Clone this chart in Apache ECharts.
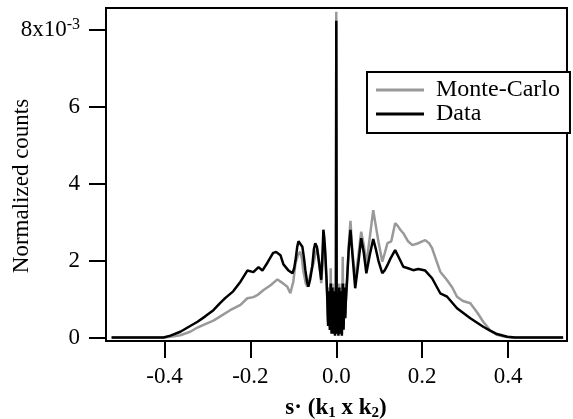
<!DOCTYPE html>
<html>
<head>
<meta charset="utf-8">
<script src="https://cdn.jsdelivr.net/npm/echarts@6/dist/echarts.min.js"></script>
<style>
html,body{margin:0;padding:0;background:#fff;}
#c{width:573px;height:419px;}
</style>
</head>
<body>
<div id="c"></div>
<script>
// Tick values
const xTicks = [-0.4, -0.2, 0, 0.2, 0.4];
const yTicks = [0, 2, 4, 6, 8];

// Monte-Carlo (gray), y in units of 1e-3
const mcX = [-0.523,-0.433,-0.402,-0.386,-0.363,-0.340,-0.323,-0.305,-0.286,-0.270,-0.247,-0.223,-0.207,-0.193,-0.184,-0.170,-0.153,-0.137,-0.123,-0.114,-0.107,-0.100,-0.095,-0.089,-0.084,-0.080,-0.077,-0.071,-0.067,-0.062,-0.057,-0.053,-0.048,-0.044,-0.039,-0.035,-0.032,-0.030,-0.026,-0.021,
  -0.020,-0.019,-0.018,-0.017,-0.016,-0.015,-0.014,-0.013,-0.012,-0.011,-0.010,-0.009,-0.008,-0.007,-0.006,-0.005,-0.004,-0.003,-0.002,-0.001,0.000,0.001,0.002,0.003,0.004,0.005,0.006,0.007,0.008,0.009,0.010,0.011,0.012,0.013,0.014,0.015,0.016,0.017,0.018,0.019,0.020,0.021,0.022,
  0.025,0.029,0.033,0.037,0.044,0.051,0.058,0.064,0.070,0.078,0.086,0.092,0.098,0.107,0.113,0.119,0.128,0.137,0.143,0.149,0.156,0.167,0.177,0.191,0.200,0.207,0.216,0.223,0.233,0.242,0.258,0.270,0.281,0.295,0.312,0.328,0.342,0.358,0.374,0.393,0.409,0.528];
const mcY = [0,0,0,0.02,0.06,0.15,0.26,0.35,0.44,0.55,0.71,0.85,1.02,1.05,1.10,1.23,1.36,1.51,1.40,1.32,1.15,1.45,1.93,2.15,2.23,2.05,1.75,1.40,1.32,1.55,1.80,1.93,2.20,2.30,1.90,1.41,1.90,2.60,2.20,1.00,
  0.60,0.40,0.90,1.30,0.60,0.30,0.90,1.80,0.80,0.20,0.70,1.40,0.60,0.15,0.70,1.30,0.50,0.10,0.40,0.15,8.46,0.15,0.50,1.20,0.40,0.10,0.60,1.40,0.50,0.15,0.70,1.30,0.40,0.10,1.00,2.10,0.90,0.30,0.80,1.40,0.90,0.60,0.90,
  1.40,2.40,3.03,2.30,1.50,2.10,2.75,2.40,1.90,2.60,3.31,2.90,2.50,1.97,2.20,2.45,2.50,2.97,2.90,2.80,2.71,2.50,2.40,2.45,2.50,2.53,2.45,2.32,2.00,1.71,1.49,1.30,1.06,0.95,0.89,0.65,0.41,0.19,0.07,0.02,0,0];

// Data (black), y in units of 1e-3
const dataX = [-0.523,-0.433,-0.402,-0.386,-0.363,-0.340,-0.323,-0.305,-0.286,-0.270,-0.258,-0.240,-0.223,-0.207,-0.193,-0.181,-0.172,-0.160,-0.147,-0.140,-0.130,-0.123,-0.112,-0.102,-0.098,-0.095,-0.091,-0.088,-0.084,-0.079,-0.075,-0.072,-0.068,-0.065,-0.061,-0.056,-0.052,-0.049,-0.045,-0.042,-0.038,-0.035,-0.032,-0.030,-0.028,-0.026,-0.023,-0.021,
  -0.020,-0.019,-0.018,-0.017,-0.016,-0.015,-0.014,-0.013,-0.012,-0.011,-0.010,-0.009,-0.008,-0.007,-0.006,-0.005,-0.004,-0.003,-0.002,-0.001,0.000,0.001,0.002,0.003,0.004,0.005,0.006,0.007,0.008,0.009,0.010,0.011,0.012,0.013,0.014,0.015,0.016,0.017,0.018,0.019,0.020,0.021,0.022,
  0.025,0.029,0.033,0.038,0.044,0.051,0.058,0.064,0.070,0.078,0.086,0.092,0.098,0.107,0.113,0.119,0.126,0.137,0.149,0.156,0.167,0.179,0.191,0.207,0.223,0.242,0.258,0.281,0.312,0.342,0.358,0.374,0.398,0.416,0.528];
const dataY = [0,0,0,0.05,0.15,0.30,0.41,0.55,0.71,0.90,1.03,1.20,1.45,1.74,1.70,1.83,1.74,1.95,2.20,2.22,2.14,1.90,1.75,1.67,1.80,2.00,2.35,2.50,2.45,2.36,2.05,1.75,1.45,1.32,1.50,1.84,2.30,2.45,2.35,2.10,1.75,1.50,2.20,2.80,2.60,2.27,1.60,1.06,
  0.60,0.30,0.70,1.20,0.50,0.20,0.80,1.40,0.60,0.10,0.60,1.30,0.50,0.10,0.60,1.20,0.40,0.05,0.30,0.10,8.23,0.10,0.40,1.10,0.30,0.05,0.60,1.30,0.50,0.10,0.60,1.20,0.40,0.05,0.70,1.40,0.60,0.20,0.70,1.30,0.80,0.50,0.90,
  1.49,2.30,2.80,2.10,1.28,1.90,2.58,2.20,1.67,2.15,2.56,2.30,2.00,1.67,1.75,1.88,2.05,2.27,2.00,1.84,1.80,1.75,1.78,1.74,1.54,1.15,1.06,0.76,0.50,0.28,0.18,0.09,0.02,0,0];

const zip = (xs, ys) => xs.map((x, i) => [x, ys[i]]);
const FONT = "'Liberation Serif','Times New Roman',serif";

const chart = echarts.init(document.getElementById('c'), null, {renderer: 'canvas'});
chart.setOption({
  animation: false,
  backgroundColor: '#fff',
  grid: {left: 106, right: 6, top: 8, bottom: 78, show: true, borderColor: '#000', borderWidth: 2, backgroundColor: 'transparent'},
  legend: {
    orient: 'vertical', left: 367, top: 72,
    data: ['Monte-Carlo', 'Data'],
    icon: 'rect', itemWidth: 48, itemHeight: 3, itemGap: 0,
    padding: [6, 10, 7, 9],
    borderColor: '#000', borderWidth: 2, backgroundColor: '#fff',
    textStyle: {fontFamily: FONT, fontSize: 24, color: '#000', lineHeight: 22, padding: [0, 0, 0, 7]}
  },
  xAxis: {
    type: 'value', min: -0.536, max: 0.537,
    splitLine: {show: false},
    axisLine: {onZero: false, lineStyle: {color: '#000', width: 2}},
    axisTick: {customValues: xTicks, length: 17, inside: false, lineStyle: {color: '#000', width: 2}},
    axisLabel: {customValues: xTicks, margin: 24, fontFamily: FONT, fontSize: 23, color: '#000',
      formatter: v => v.toFixed(1)}
  },
  yAxis: {
    type: 'value', min: -0.09, max: 8.56,
    splitLine: {show: false},
    axisLine: {onZero: false, lineStyle: {color: '#000', width: 2}},
    axisTick: {customValues: yTicks, length: 17, inside: false, lineStyle: {color: '#000', width: 2}},
    axisLabel: {customValues: yTicks, margin: 26, fontFamily: FONT, fontSize: 23, color: '#000',
      formatter: v => v === 8 ? '{a|8x10}{b|-3}' : String(v),
      rich: {
        a: {fontFamily: FONT, fontSize: 23, color: '#000', lineHeight: 26},
        b: {fontFamily: FONT, fontSize: 16, color: '#000', lineHeight: 10, verticalAlign: 'top'}
      }}
  },
  graphic: [
    {type: 'text', x: 22, y: 186, rotation: Math.PI / 2,
      style: {text: 'Normalized counts', fontFamily: FONT, fontSize: 23, fill: '#000', align: 'center', verticalAlign: 'middle'}},
    {type: 'text', x: 336, y: 408,
      style: {text: '{b|s· (k}{s|1}{b| x k}{s|2}{b|)}', align: 'center', verticalAlign: 'middle',
        rich: {
          b: {fontFamily: FONT, fontSize: 23, fontWeight: 'bold', fill: '#000', lineHeight: 26},
          s: {fontFamily: FONT, fontSize: 15, fontWeight: 'bold', fill: '#000', lineHeight: 14, verticalAlign: 'bottom'}
        }}}
  ],
  series: [
    {name: 'Monte-Carlo', type: 'line', data: zip(mcX, mcY), symbol: 'none', color: '#999999',
      lineStyle: {color: '#999999', width: 2.5}, z: 2},
    {name: 'Data', type: 'line', data: zip(dataX, dataY), symbol: 'none', color: '#000000',
      lineStyle: {color: '#000000', width: 2.5}, z: 3}
  ]
});
</script>
</body>
</html>
